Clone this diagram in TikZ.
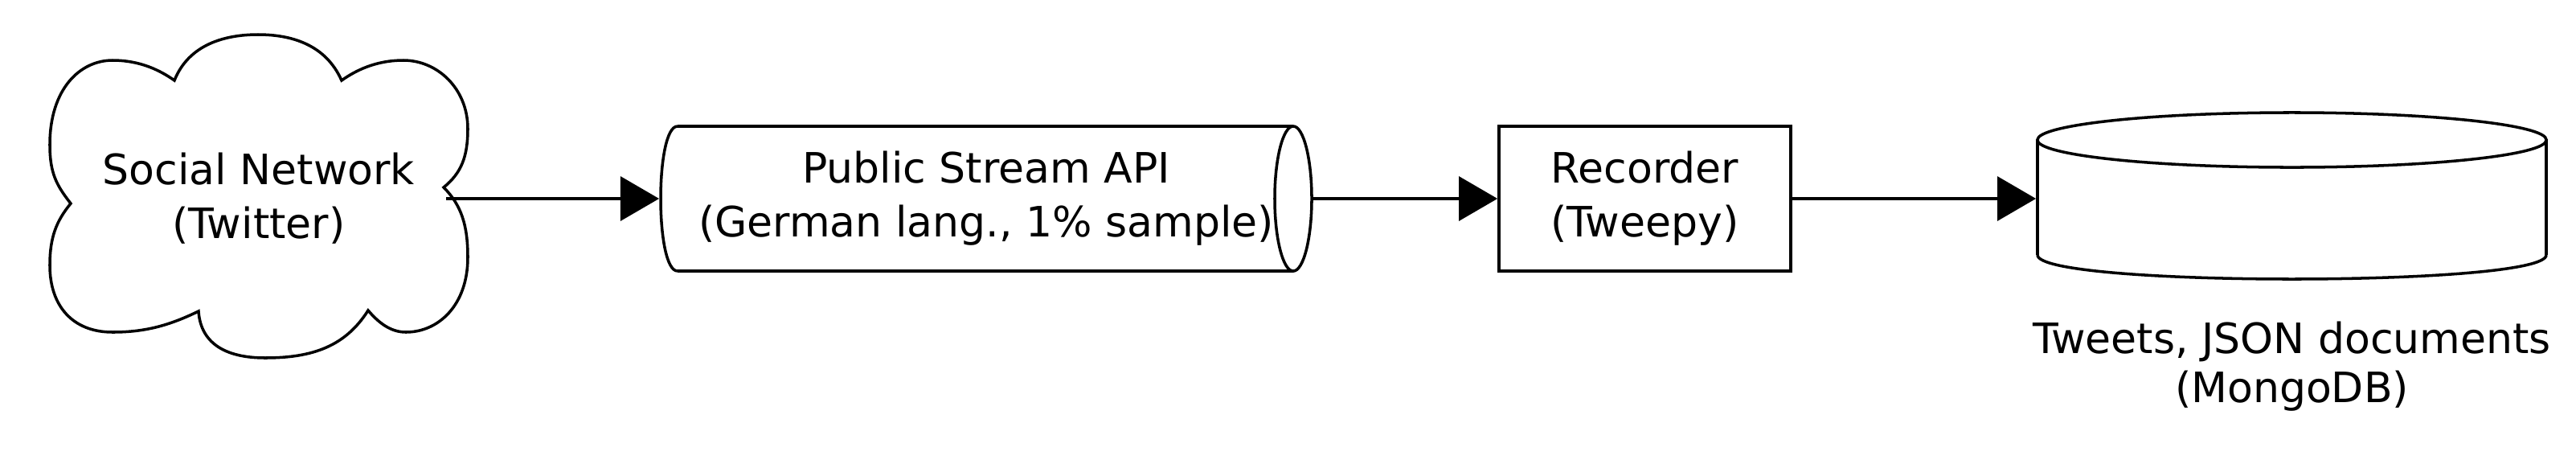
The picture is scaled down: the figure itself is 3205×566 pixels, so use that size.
\documentclass[tikz,border=0pt]{standalone}
\usepackage{fontspec}
\setmainfont{DejaVu Sans}
\usetikzlibrary{arrows.meta}
\begin{document}
\begin{tikzpicture}[x=0.01cm,y=-0.01cm,
  line width=1pt,
  lbl/.style={align=center, font=\fontsize{14.8pt}{19.05pt}\selectfont, inner sep=0pt},
  flow/.style={-{Triangle[length=0.48cm,width=0.55cm]}, line width=0.9pt},
  box/.style={draw, minimum width=3.63cm, minimum height=1.8cm, inner sep=0pt}]
\useasboundingbox (0,0) rectangle (3205,566);

% cloud outline
\draw (88,253) .. controls (70,230) and (62,215) .. (62,180)
  .. controls (62,110) and (100,75) .. (140,75)
  .. controls (175,75) and (200,88) .. (217,100)
  .. controls (235,55) and (280,43) .. (321,43)
  .. controls (362,43) and (405,55) .. (425,100)
  .. controls (442,88) and (467,75) .. (502,75)
  .. controls (544,75) and (582,110) .. (582,160)
  .. controls (582,195) and (574,215) .. (552,233)
  .. controls (574,255) and (582,280) .. (582,320)
  .. controls (582,380) and (545,413) .. (505,413)
  .. controls (485,413) and (470,400) .. (458,386)
  .. controls (430,430) and (390,445) .. (330,445)
  .. controls (285,445) and (250,430) .. (247,387)
  .. controls (210,405) and (180,413) .. (140,413)
  .. controls (90,413) and (62,380) .. (62,330)
  .. controls (62,295) and (70,275) .. (88,253) -- cycle;
\node[lbl] (net) at (322,247) {Social Network\\(Twitter)};
\coordinate (netE) at (555,247);

% public stream pipe
\node[lbl, minimum width=8.10cm, minimum height=1.8cm] (api) at (1227,247)
  {Public Stream API\\(German lang., 1\% sample)};
\draw (843,157) -- (1609,157);
\draw (843,337) -- (1609,337);
\draw (843,157) .. controls (815,157) and (815,337) .. (843,337);
\draw (1609,247) ellipse [x radius=0.23cm, y radius=0.9cm];

% recorder
\node[box, lbl] (rec) at (2046.5,247) {Recorder\\(Tweepy)};

% database
\node[minimum width=6.33cm, minimum height=2.08cm, inner sep=0pt] (db) at (2851.5,247) {};
\draw (2851.5,174) ellipse [x radius=3.165cm, y radius=0.34cm];
\draw (2535,174) -- (2535,317);
\draw (3168,174) -- (3168,317);
\draw (2535,317) .. controls (2535,357) and (3168,357) .. (3168,317);
\node[lbl, font=\fontsize{14.8pt}{17.35pt}\selectfont] (dbl) at (2851.5,456)
  {Tweets, JSON documents\\(MongoDB)};

% connectors
\draw[flow] (netE) -- (api.west);
\draw[flow] (api.east) -- (rec.west);
\draw[flow] (rec.east) -- (db.west);
\end{tikzpicture}
\end{document}
